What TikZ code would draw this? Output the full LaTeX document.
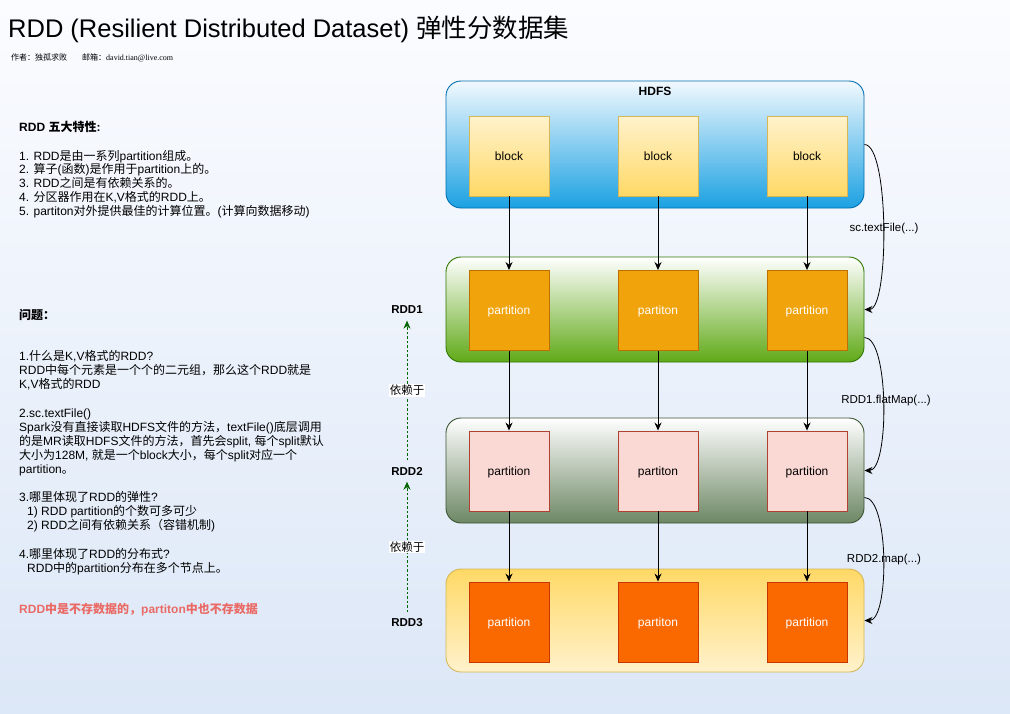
\documentclass[tikz,border=0pt]{standalone}
\usepackage{fontspec}
\setmainfont{Liberation Sans}
\newfontfamily\cjkf{Noto Sans CJK SC}
\newfontfamily\serifl{Liberation Serif}
\usetikzlibrary{arrows.meta,calc}
% automatic switching to the CJK font
\XeTeXinterchartokenstate=1
\newXeTeXintercharclass\CJKcls
\newcount\cjkcnt
\cjkcnt="0021
\loop\XeTeXcharclass\cjkcnt=0\relax
\ifnum\cjkcnt<"007E \advance\cjkcnt by 1 \repeat
\cjkcnt="3000
\loop\XeTeXcharclass\cjkcnt=\CJKcls\relax
\ifnum\cjkcnt<"303F \advance\cjkcnt by 1 \repeat
\cjkcnt="4E00
\loop\XeTeXcharclass\cjkcnt=\CJKcls\relax
\ifnum\cjkcnt<"9FFF \advance\cjkcnt by 1 \repeat
\cjkcnt="FF00
\loop\XeTeXcharclass\cjkcnt=\CJKcls\relax
\ifnum\cjkcnt<"FFEF \advance\cjkcnt by 1 \repeat
\XeTeXinterchartoks 0 \CJKcls = {\cjkf}
\XeTeXinterchartoks 4095 \CJKcls = {\cjkf}
\XeTeXinterchartoks \CJKcls 0 = {\rmfamily}
\XeTeXinterchartoks \CJKcls 4095 = {\rmfamily}

\definecolor{bgtop}{HTML}{FBFCFF}
\definecolor{bgbot}{HTML}{DCE7F7}
\definecolor{hdfsT}{HTML}{F2F9FE}
\definecolor{hdfsB}{HTML}{1BA1E2}
\definecolor{hdfsD}{HTML}{006EAF}
\definecolor{r1B}{HTML}{60A917}
\definecolor{r1D}{HTML}{2D7600}
\definecolor{r2B}{HTML}{6D8764}
\definecolor{r2D}{HTML}{3A5431}
\definecolor{yelD}{HTML}{FFD966}
\definecolor{yelL}{HTML}{FFF2CC}
\definecolor{yelB}{HTML}{D6B656}
\definecolor{p1F}{HTML}{F0A30A}
\definecolor{p1D}{HTML}{BD7000}
\definecolor{p2F}{HTML}{FAD9D5}
\definecolor{p2D}{HTML}{AE4132}
\definecolor{p3F}{HTML}{FA6800}
\definecolor{p3D}{HTML}{C73500}
\definecolor{redtxt}{HTML}{EA6B66}
\definecolor{depgreen}{HTML}{006600}

\tikzset{
  txt/.style={anchor=base west, inner sep=0pt, font=\fontsize{12}{14}\selectfont},
  btxt/.style={txt, font=\fontsize{12}{14}\selectfont\bfseries},
  container/.style={rounded corners=15pt, line width=0.9pt, minimum width=418, inner sep=0pt},
  hdfsbox/.style={container, draw=hdfsD, top color=hdfsT, bottom color=hdfsB, minimum height=127},
  rddA/.style={container, draw=r1D, top color=white, bottom color=r1B, minimum height=105},
  rddB/.style={container, draw=r2D, top color=white, bottom color=r2B, minimum height=105},
  rddC/.style={container, draw=yelB, top color=yelD, bottom color=yelL, minimum height=103},
  sq/.style={minimum width=80, minimum height=80, inner sep=0pt, line width=0.9pt, text depth=0pt, font=\fontsize{12}{14}\selectfont},
  blk/.style={sq, draw=yelB, top color=yelL, bottom color=yelD},
  pA/.style={sq, draw=p1D, fill=p1F, text=white},
  pB/.style={sq, draw=p2D, fill=p2F, text=black},
  pC/.style={sq, draw=p3D, fill=p3F, text=white},
  flow/.style={draw=black, line width=0.9pt, -{Stealth[length=8pt,width=7pt]}},
  curv/.style={draw=black, line width=0.8pt, -{Stealth[length=8pt,width=7pt]}},
  oplbl/.style={inner sep=0pt, font=\fontsize{11.5}{14}\selectfont},
  rddlbl/.style={inner sep=2pt, font=\fontsize{11.5}{14}\selectfont\bfseries},
  dep/.style={draw=depgreen, line width=0.9pt, dash pattern=on 2.5pt off 2pt, -{Stealth[length=8pt,width=7pt]}, shorten <=4.5pt, shorten >=4.5pt},
  deplbl/.style={fill=white, inner sep=1pt, font=\fontsize{11.5}{14}\selectfont, text=black},
}

\begin{document}
\begin{tikzpicture}[x=1pt,y=-1pt]
\useasboundingbox (0,0) rectangle (1010,713);
\node[anchor=north west, minimum width=1010, minimum height=713, inner sep=0pt, outer sep=0pt, top color=bgtop, bottom color=bgbot] (bg) at (0,0) {};

% title
\node[anchor=base west, inner sep=0pt, font=\fontsize{25.5}{30}\selectfont] (title) at (8,37) {RDD (Resilient Distributed Dataset) 弹性分数据集};
\node[anchor=base west, inner sep=0pt, font=\fontsize{8}{10}\selectfont] (auth) at (11,60) {作者：独孤求败};
\node[anchor=base west, inner sep=0pt, font=\fontsize{8}{10}\selectfont] (mail) at (82,60) {邮箱：{\serifl david.tian@live.com}};

% left text
\node[btxt] (h1) at (19,131) {RDD 五大特性:};
\node[txt] (a1) at (19,160) {1. RDD是由一系列partition组成。};
\node[txt] (a2) at (19,173.8) {2. 算子(函数)是作用于partition上的。};
\node[txt] (a3) at (19,187.6) {3. RDD之间是有依赖关系的。};
\node[txt] (a4) at (19,201.4) {4. 分区器作用在K,V格式的RDD上。};
\node[txt] (a5) at (19,215.2) {5. partiton对外提供最佳的计算位置。(计算向数据移动)};

\node[btxt] (h2) at (19,319.5) {问题：};
\node[txt] (q1) at (19,360.5) {1.什么是K,V格式的RDD?};
\node[txt] (q2) at (19,374.5) {RDD中每个元素是一个个的二元组，那么这个RDD就是};
\node[txt] (q3) at (19,388.5) {K,V格式的RDD};
\node[txt] (q4) at (19,417.5) {2.sc.textFile()};
\node[txt] (q5) at (19,431.5) {Spark没有直接读取HDFS文件的方法，textFile()底层调用};
\node[txt] (q6) at (19,445.5) {的是MR读取HDFS文件的方法，首先会split, 每个split默认};
\node[txt] (q7) at (19,459.5) {大小为128M, 就是一个block大小，每个split对应一个};
\node[txt] (q8) at (19,473.5) {partition。};
\node[txt] (q9) at (19,501.5) {3.哪里体现了RDD的弹性?};
\node[txt] (q10) at (27,515.5) {1) RDD partition的个数可多可少};
\node[txt] (q11) at (27,529.5) {2) RDD之间有依赖关系（容错机制)};
\node[txt] (q12) at (19,558.5) {4.哪里体现了RDD的分布式?};
\node[txt] (q13) at (27,572) {RDD中的partition分布在多个节点上。};
\node[btxt, text=redtxt] (red) at (19,613.5) {RDD中是不存数据的，partiton中也不存数据};

% containers
\node[hdfsbox] (hdfs) at (655,144.5) {};
\node[inner sep=0pt, font=\fontsize{12}{14}\selectfont\bfseries] (hdfslbl) at (655,91) {HDFS};
\node[rddA] (rdd1) at (655,309.5) {};
\node[rddB] (rdd2) at (655,470.5) {};
\node[rddC] (rdd3) at (655,620.5) {};

% blocks and partitions
\node[blk] (b1) at (509,156) {block};
\node[blk] (b2) at (658,156) {block};
\node[blk] (b3) at (807,156) {block};
\node[pA] (pa1) at (509,310.5) {partition};
\node[pA] (pa2) at (658,310.5) {partiton};
\node[pA] (pa3) at (807,310.5) {partition};
\node[pB] (pb1) at (509,471) {partition};
\node[pB] (pb2) at (658,471) {partiton};
\node[pB] (pb3) at (807,471) {partition};
\node[pC] (pc1) at (509,622) {partition};
\node[pC] (pc2) at (658,622) {partiton};
\node[pC] (pc3) at (807,622) {partition};

% vertical flows
\draw[flow] (b1) -- (pa1);
\draw[flow] (b2) -- (pa2);
\draw[flow] (b3) -- (pa3);
\draw[flow] (pa1) -- (pb1);
\draw[flow] (pa2) -- (pb2);
\draw[flow] (pa3) -- (pb3);
\draw[flow] (pb1) -- (pc1);
\draw[flow] (pb2) -- (pc2);
\draw[flow] (pb3) -- (pc3);

% right curved transformations
\coordinate (r1out) at ($(rdd1.south east)+(0,-25)$);
\coordinate (r2out) at ($(rdd2.south east)+(0,-26)$);
\draw[curv] (hdfs.east) .. controls +(25,0) and +(25,0) .. (rdd1.east);
\draw[curv] (r1out) .. controls +(25,0) and +(25,0) .. (rdd2.east);
\draw[curv] (r2out) .. controls +(25,0) and +(25,0) .. (rdd3.east);
\node[oplbl] (op1) at (884,229) {sc.textFile(...)};
\node[oplbl] (op2) at (886,401) {RDD1.flatMap(...)};
\node[oplbl] (op3) at (884,560) {RDD2.map(...)};

% dependency labels
\node[rddlbl] (l1) at (407,310) {RDD1};
\node[rddlbl] (l2) at (407,471) {RDD2};
\node[rddlbl] (l3) at (407,623) {RDD3};
\draw[dep] (l2) -- node[deplbl] (d1) {依赖于} (l1);
\draw[dep] (l3) -- node[deplbl] (d2) {依赖于} (l2);
\end{tikzpicture}
\end{document}
